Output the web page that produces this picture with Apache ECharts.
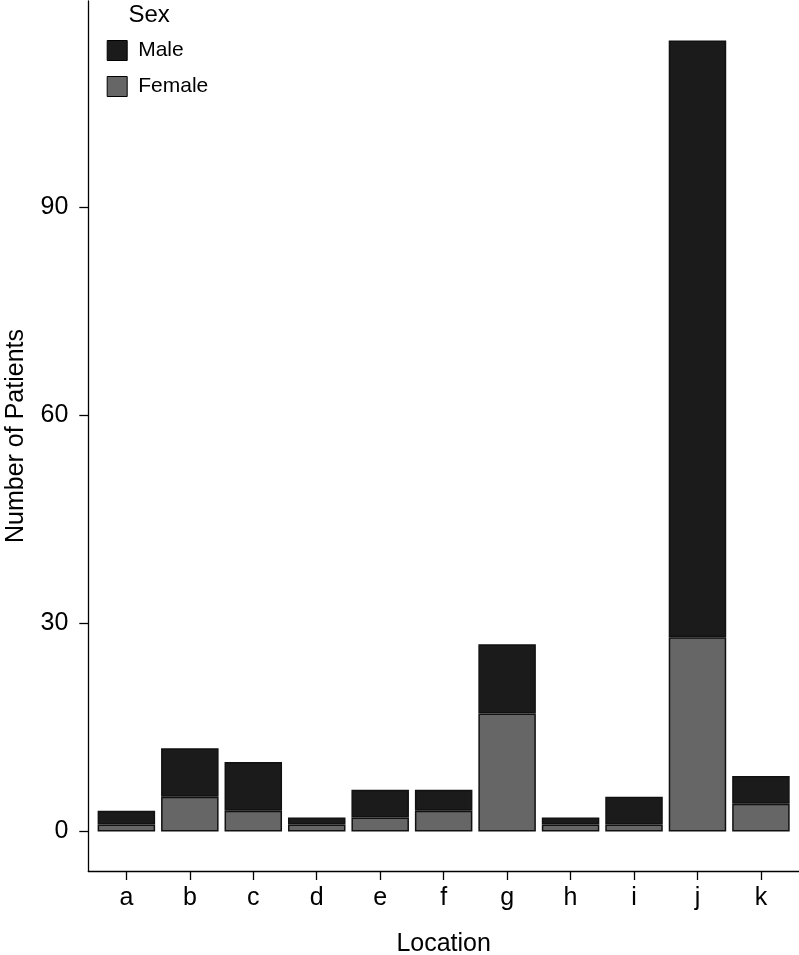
<!DOCTYPE html>
<html>
<head>
<meta charset="utf-8">
<script src="https://cdn.jsdelivr.net/npm/echarts@6/dist/echarts.min.js"></script>
<style>html,body{margin:0;padding:0;background:#fff}#c{width:799px;height:955px}</style>
</head>
<body>
<div id="c"></div>
<script>
const categories = ['a','b','c','d','e','f','g','h','i','j','k'];
const femaleValues = [1,5,3,1,2,3,17,1,1,28,4];
const maleValues = [2,7,7,1,4,3,10,1,4,86,4];
const yTicks = [0,30,60,90];
const positions = categories.map((c,i)=>i+1);

const chart = echarts.init(document.getElementById('c'), null, {renderer:'canvas'});
const font = 'Liberation Sans, Arial, Helvetica, sans-serif';
chart.setOption({
  animation:false,
  backgroundColor:'#ffffff',
  textStyle:{fontFamily:font},
  title:{text:'Sex', left:123.5, top:-2, textStyle:{fontFamily:font, fontSize:24, fontWeight:'normal', color:'#000'}},
  legend:{
    data:['Male','Female'], orient:'vertical', left:101.7, top:35, icon:'rect',
    itemWidth:20, itemHeight:20, itemGap:15,
    textStyle:{fontFamily:font, fontSize:21, color:'#000', padding:[0,0,0,6]},
    itemStyle:{borderColor:'#000', borderWidth:1}
  },
  grid:{left:88.3, right:0, top:1, bottom:84, containLabel:false, outerBoundsMode:'none'},
  xAxis:{
    type:'value', min:0.4, max:11.6,
    name:'Location', nameLocation:'middle', nameGap:61,
    nameTextStyle:{fontFamily:font, fontSize:25, color:'#000'},
    splitLine:{show:false},
    axisLine:{show:true, onZero:false, lineStyle:{color:'#000', width:1.3}},
    axisTick:{show:true, length:9, customValues:positions, lineStyle:{color:'#000', width:1.3}},
    axisLabel:{customValues:positions, margin:15, fontSize:25, color:'#000', fontFamily:font,
      formatter:v=>categories[Math.round(v)-1]}
  },
  yAxis:{
    type:'value', min:-5.7, max:119.7,
    name:'Number of Patients', nameLocation:'middle', nameGap:60,
    nameTextStyle:{fontFamily:font, fontSize:25, color:'#000'},
    splitLine:{show:false},
    axisLine:{show:true, onZero:false, lineStyle:{color:'#000', width:1.3}},
    axisTick:{show:true, length:9, customValues:yTicks, lineStyle:{color:'#000', width:1.3}},
    axisLabel:{customValues:yTicks, margin:20, fontSize:25, color:'#000', fontFamily:font}
  },
  series:[
    {name:'Female', type:'bar', stack:'s', barWidth:57.5, encode:{x:1, y:0},
      itemStyle:{color:'#666666', borderColor:'#111', borderWidth:1.5},
      data:positions.map((p,i)=>[femaleValues[i], p])},
    {name:'Male', type:'bar', stack:'s', barWidth:57.5, encode:{x:1, y:0},
      itemStyle:{color:'#1b1b1b', borderColor:'#111', borderWidth:1.5},
      data:positions.map((p,i)=>[maleValues[i], p])}
  ]
});
</script>
</body>
</html>
